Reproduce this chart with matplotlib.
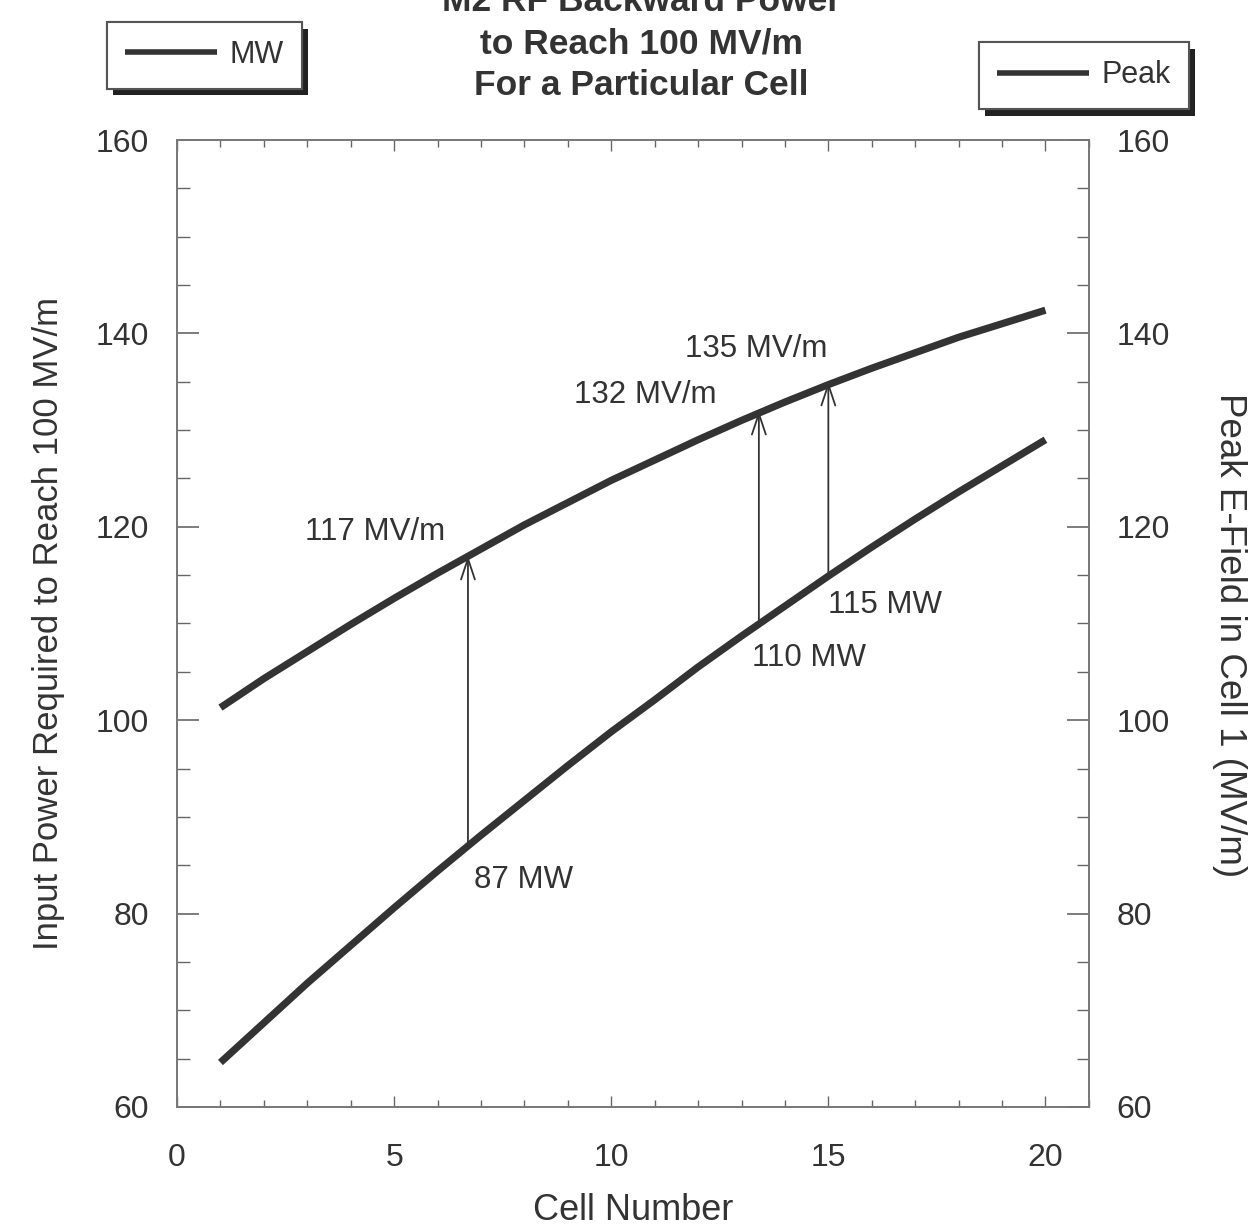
import numpy as np
import matplotlib
matplotlib.use("Agg")
import matplotlib.pyplot as plt
import matplotlib.patheffects as pe

plt.rcParams['font.family'] = ['Liberation Sans', 'DejaVu Sans']

# data
cells = list(range(1, 21))
mw_power = [64.6, 68.7, 72.8, 76.7, 80.6, 84.4, 88.1, 91.7, 95.3, 98.8,
            102.1, 105.5, 108.7, 111.8, 114.9, 117.9, 120.8, 123.6, 126.3, 129.0]
peak_field = [101.3, 104.3, 107.1, 109.9, 112.6, 115.2, 117.7, 120.2, 122.5, 124.8,
              126.9, 129.0, 131.0, 132.9, 134.7, 136.4, 138.0, 139.6, 141.0, 142.4]

# arrows: cell, power (MW), field (MV/m)
arrow_cells = [6.7, 13.4, 15.0]
arrow_mw = [87, 110, 115]
arrow_mvm = [117, 132, 135]

ink = '#333333'

fig = plt.figure(figsize=(12.53, 12.26), dpi=100)
ax = fig.add_axes([0.1413, 0.0971, 0.7277, 0.7887])
ax2 = ax.twinx()

l1, = ax.plot(cells, mw_power, color=ink, lw=5.2, solid_capstyle='butt', label='MW')
l2, = ax2.plot(cells, peak_field, color=ink, lw=5.2, solid_capstyle='butt', label='Peak')

for a in (ax, ax2):
    a.set_xlim(0, 21)
    a.set_ylim(60, 160)
    for s in a.spines.values():
        s.set_color('#777777')
        s.set_linewidth(1.2)

ax.set_xticks([0, 5, 10, 15, 20])
ax.set_xticks(range(0, 22), minor=True)
ax.set_yticks(range(60, 161, 20))
ax.set_yticks(range(60, 161, 5), minor=True)
ax2.set_yticks(range(60, 161, 20))
ax2.set_yticks(range(60, 161, 5), minor=True)

ax.tick_params(axis='both', which='both', direction='in', colors='#666666',
               labelcolor=ink, labelsize=23, top=True)
ax.tick_params(axis='x', which='major', length=8, width=1, pad=26)
ax.tick_params(axis='x', which='minor', length=5, width=1)
ax.tick_params(axis='y', which='major', length=16, width=1.2, pad=20)
ax.tick_params(axis='y', which='minor', length=9, width=1)
ax2.tick_params(axis='y', which='both', direction='in', colors='#666666',
                labelcolor=ink, labelsize=23)
ax2.tick_params(axis='y', which='major', length=16, width=1.2, pad=20)
ax2.tick_params(axis='y', which='minor', length=9, width=1)

ax.set_xlabel('Cell Number', fontsize=26, color=ink, labelpad=14)
ax.set_ylabel('Input Power Required to Reach 100 MV/m', fontsize=25, color=ink, labelpad=22)
ax2.set_ylabel('Peak E-Field in Cell 1 (MV/m)', fontsize=26.5, color=ink,
               rotation=270, va='center')
ax2.yaxis.set_label_coords(1.154, 0.488)

# arrows from the power curve to the field curve
for xc, y0, y1 in zip(arrow_cells, arrow_mw, arrow_mvm):
    ax.annotate('', xy=(xc, y1), xytext=(xc, y0),
                arrowprops=dict(arrowstyle='->,head_length=1.5,head_width=0.5',
                                color=ink, lw=1.3, shrinkA=0, shrinkB=0))

# labels
lab = dict(fontsize=22.5, color=ink, ha='left', va='center')
ax.text(2.95, 119.5, '117 MV/m', **lab)
ax.text(9.15, 133.6, '132 MV/m', **lab)
ax.text(11.7, 138.4, '135 MV/m', **lab)
ax.text(6.85, 83.5, '87 MW', **lab)
ax.text(13.25, 106.4, '110 MW', **lab)
ax.text(15.0, 111.9, '115 MW', **lab)

fig.text(0.512, 0.9645, 'M2 RF Backward Power\nto Reach 100 MV/m\nFor a Particular Cell',
         ha='center', va='center', fontsize=25.5, fontweight='bold', color=ink,
         linespacing=1.36)

shadow = [pe.withSimplePatchShadow(offset=(4.5, -5), shadow_rgbFace='#222222', alpha=1.0),
          pe.Normal()]
leg_kw = dict(frameon=True, fancybox=False, framealpha=1.0, facecolor='white',
              fontsize=22, handlelength=3.0, handletextpad=0.4, borderpad=0.6,
              labelcolor=ink)
leg1 = fig.legend(handles=[l1], loc='center', bbox_to_anchor=(0.163, 0.955), **leg_kw)
leg2 = fig.legend(handles=[l2], loc='center', bbox_to_anchor=(0.865, 0.9385), **leg_kw)
for lg in (leg1, leg2):
    fr = lg.get_frame()
    fr.set_edgecolor('#555555')
    fr.set_linewidth(1.5)
    fr.set_path_effects(shadow)
    for h in lg.legend_handles:
        h.set_linewidth(4)

fig.savefig('out.png', dpi=100, facecolor='white')
